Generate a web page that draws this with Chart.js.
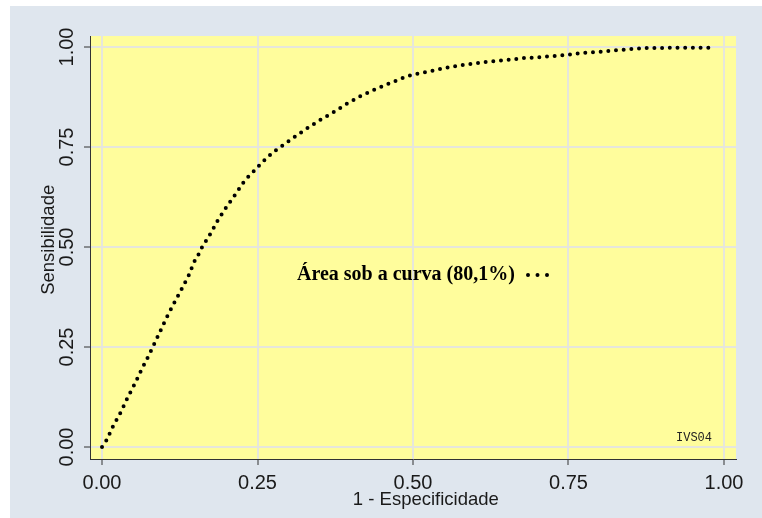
<!DOCTYPE html>
<html>
<head>
<meta charset="utf-8">
<script src="https://cdn.jsdelivr.net/npm/chart.js@4.4.0/dist/chart.umd.min.js"></script>
<style>
    html, body { margin: 0; padding: 0; background: #ffffff; }
    #painel { position: absolute; left: 10px; top: 6px; width: 752px; height: 512px; background: #dfe6ee; }
</style>
</head>
<body>
<div id="painel"><canvas id="chartRoc" width="752" height="512"></canvas></div>
<script>
// curva ROC: 1 - especificidade (x) contra sensibilidade (y)
const umMenosEspecificidade = [
    0, 0.0075, 0.018, 0.0305, 0.041, 0.053, 0.064, 0.0756, 0.092, 0.103,
    0.115, 0.127, 0.139, 0.148, 0.155, 0.161, 0.174, 0.187, 0.2, 0.215,
    0.23, 0.2476, 0.257, 0.275, 0.286, 0.3066, 0.327, 0.349, 0.371, 0.393,
    0.416, 0.439, 0.462, 0.4855, 0.4995, 0.523, 0.549, 0.574, 0.6, 0.625,
    0.651, 0.676, 0.701, 0.727, 0.751, 0.779, 0.803, 0.83, 0.854, 0.868,
    0.881, 0.92, 0.955, 0.986
];
const sensibilidade = [
    0, 0.0175, 0.053, 0.088, 0.123, 0.159, 0.195, 0.23, 0.284, 0.321,
    0.357, 0.392, 0.4275, 0.4625, 0.481, 0.5, 0.5325, 0.569, 0.6, 0.633,
    0.6675, 0.695, 0.711, 0.737, 0.749, 0.772, 0.794, 0.816, 0.836, 0.8575,
    0.8775, 0.894, 0.909, 0.924, 0.931, 0.938, 0.9467, 0.954, 0.959, 0.964,
    0.9675, 0.972, 0.974, 0.9775, 0.981, 0.986, 0.988, 0.9925, 0.995, 0.997,
    0.9975, 0.998, 0.998, 0.998
];
const marcasEixo = [0, 0.25, 0.5, 0.75, 1];
const rotuloLegenda = "Área sob a curva (80,1%)";
const rotuloNota = "IVS04";

const corAmarelo = "#fffd9c";
const corGrade = "#e6e6dc";
const corEixo = "#333333";
const corTexto = "#1a1a1a";

const fundoAreaPlot = {
    id: "fundoAreaPlot",
    beforeDraw(chart) {
        const { ctx, chartArea: a } = chart;
        ctx.save();
        ctx.fillStyle = corAmarelo;
        ctx.fillRect(a.left, a.top, a.right - a.left, a.bottom - a.top);
        ctx.restore();
    }
};

// legenda dentro da área do gráfico + nota no canto
const legendaInterna = {
    id: "legendaInterna",
    afterDatasetsDraw(chart) {
        const { ctx } = chart;
        ctx.save();
        ctx.fillStyle = "#000000";
        ctx.font = "bold 20px 'Liberation Serif', 'Times New Roman', serif";
        ctx.textBaseline = "alphabetic";
        ctx.textAlign = "left";
        ctx.fillText(rotuloLegenda, 287, 274);

        ctx.strokeStyle = "#000000";
        ctx.lineWidth = 4;
        ctx.lineCap = "round";
        ctx.setLineDash([0, 9.5]);
        ctx.beginPath();
        ctx.moveTo(518, 269);
        ctx.lineTo(538, 269);
        ctx.stroke();
        ctx.setLineDash([]);

        ctx.font = "12px 'Liberation Mono', 'Courier New', monospace";
        ctx.fillStyle = "#222222";
        ctx.fillText(rotuloNota, 666, 435);
        ctx.restore();
    }
};

const pontos = umMenosEspecificidade.map((x, i) => ({ x: x, y: sensibilidade[i] }));

function fixarMarcas(scale) {
    scale.ticks = marcasEixo.map(v => ({ value: v }));
}

const chartRoc = new Chart(document.getElementById("chartRoc"), {
    type: "line",
    data: {
        datasets: [{
            label: rotuloLegenda,
            data: pontos,
            borderColor: "#000000",
            borderWidth: 4,
            borderCapStyle: "round",
            borderDash: [0, 7.7],
            pointRadius: 0,
            tension: 0,
            fill: false
        }]
    },
    options: {
        responsive: false,
        animation: false,
        devicePixelRatio: 1,
        layout: { padding: { top: 30, right: 26, left: 0, bottom: 0 } },
        plugins: {
            legend: { display: false },
            tooltip: { enabled: false }
        },
        scales: {
            x: {
                type: "linear",
                min: -0.0193,
                max: 1.0193,
                afterBuildTicks: fixarMarcas,
                afterFit: s => { s.height = 59; },
                grid: { color: corGrade, lineWidth: 2, tickColor: corEixo, tickLength: 6, tickWidth: 1 },
                border: { color: corEixo, width: 1 },
                ticks: {
                    color: corTexto,
                    padding: 6,
                    font: { family: "'Liberation Sans', Arial, sans-serif", size: 20 },
                    callback: v => v.toFixed(2)
                },
                title: {
                    display: true,
                    // espaços à esquerda deslocam o título um pouco para a direita
                    text: "     1 - Especificidade",
                    color: corTexto,
                    padding: { top: 0, bottom: 7 },
                    font: { family: "'Liberation Sans', Arial, sans-serif", size: 18.5 }
                }
            },
            y: {
                type: "linear",
                min: -0.03,
                max: 1.0275,
                afterBuildTicks: fixarMarcas,
                afterFit: s => { s.width = 80; },
                grid: { color: corGrade, lineWidth: 2, tickColor: corEixo, tickLength: 6, tickWidth: 1 },
                border: { color: corEixo, width: 1 },
                ticks: {
                    color: corTexto,
                    padding: -3,
                    minRotation: 90,
                    maxRotation: 90,
                    crossAlign: "center",
                    font: { family: "'Liberation Sans', Arial, sans-serif", size: 20 },
                    callback: v => v.toFixed(2)
                },
                title: {
                    display: true,
                    text: "   Sensibilidade",
                    color: corTexto,
                    padding: { top: 28, bottom: 0 },
                    font: { family: "'Liberation Sans', Arial, sans-serif", size: 18.5 }
                }
            }
        }
    },
    plugins: [fundoAreaPlot, legendaInterna]
});
</script>
</body>
</html>
